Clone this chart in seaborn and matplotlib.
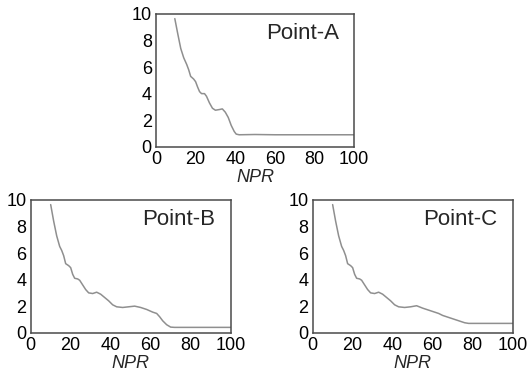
import matplotlib
matplotlib.use("Agg")
import matplotlib.pyplot as plt
import seaborn as sns
import pandas as pd
from matplotlib.ticker import MultipleLocator

# Data
npr_a = [9.5, 11, 12.5, 14, 15.5, 16.5, 17.5, 19, 20, 21, 22, 23, 24.5, 25.5, 27, 28.5,
         30, 32, 33.5, 35, 36.5, 38, 39.5, 40.5, 42, 50, 60, 80, 100]
val_a = [9.65, 8.5, 7.4, 6.7, 6.2, 5.8, 5.3, 5.1, 4.9, 4.5, 4.15, 4.0, 4.0, 3.8, 3.3, 2.9,
         2.75, 2.8, 2.85, 2.6, 2.2, 1.6, 1.15, 0.95, 0.9, 0.92, 0.9, 0.9, 0.9]

npr_b = [10, 11.5, 13, 14.5, 15.5, 16.5, 17.5, 19, 20, 21, 22, 23.5, 24.5, 26, 27.5, 29,
         31, 33, 35, 37, 39, 41, 43, 46, 49, 52, 55, 58, 61, 63, 64.5, 66, 68, 70, 72, 100]
val_b = [9.65, 8.4, 7.3, 6.5, 6.2, 5.8, 5.2, 5.05, 4.9, 4.4, 4.1, 4.05, 3.95, 3.6, 3.25, 3.0,
         2.95, 3.05, 2.9, 2.65, 2.4, 2.1, 1.95, 1.9, 1.95, 2.0, 1.9, 1.75, 1.55, 1.45, 1.2, 0.9,
         0.6, 0.42, 0.4, 0.4]

npr_c = [10, 11.5, 13, 14.5, 15.5, 16.5, 17.5, 19, 20, 21, 22, 23.5, 24.5, 26, 27.5, 29,
         31, 33, 35, 37, 39, 41, 43, 46, 49, 52, 55, 58, 61, 63, 65, 68, 71, 74, 76, 78, 100]
val_c = [9.65, 8.4, 7.3, 6.5, 6.2, 5.8, 5.2, 5.05, 4.9, 4.4, 4.1, 4.05, 3.95, 3.6, 3.25, 3.0,
         2.95, 3.05, 2.9, 2.65, 2.4, 2.1, 1.95, 1.9, 1.95, 2.03, 1.85, 1.7, 1.55, 1.45, 1.3, 1.15,
         1.0, 0.85, 0.75, 0.7, 0.7]

labels = ["Point-A", "Point-B", "Point-C"]
x_ticks = [0, 20, 40, 60, 80, 100]
y_ticks = [0, 2, 4, 6, 8, 10]

sns.set_style("white")
plt.rcParams['font.family'] = ['Liberation Sans', 'DejaVu Sans']

fig = plt.figure(figsize=(5.29, 3.76), dpi=100)
rects = [
    [0.2949, 0.6098, 0.3743, 0.353],
    [0.058, 0.1152, 0.378, 0.353],
    [0.591, 0.1152, 0.378, 0.353],
]
datasets = [(npr_a, val_a), (npr_b, val_b), (npr_c, val_c)]

for rect, (xs, ys), lab in zip(rects, datasets, labels):
    ax = fig.add_axes(rect)
    df = pd.DataFrame({"NPR": xs, "val": ys})
    sns.lineplot(data=df, x="NPR", y="val", ax=ax, color="#8f8f8f", linewidth=1.1)
    ax.set_xlim(0, 100)
    ax.set_ylim(0, 10)
    ax.set_xticks(x_ticks)
    ax.set_yticks(y_ticks)
    ax.xaxis.set_minor_locator(MultipleLocator(10))
    ax.yaxis.set_minor_locator(MultipleLocator(1))
    ax.tick_params(which="both", direction="in", colors="#333333", labelcolor="black",
                   labelsize=13, width=0.9)
    ax.tick_params(which="major", length=4, pad=3)
    ax.tick_params(which="minor", length=4)
    ax.tick_params(axis="x", which="both", top=False)
    ax.tick_params(axis="y", which="both", right=False)
    for s in ax.spines.values():
        s.set_color("#4a4a4a")
        s.set_linewidth(1.1)
    ax.set_xlabel("NPR", fontsize=13, style="italic", labelpad=1)
    ax.set_ylabel("")
    ax.text(74, 8.5, lab, fontsize=16, ha="center", va="center")

fig.savefig("out.png", dpi=100)
